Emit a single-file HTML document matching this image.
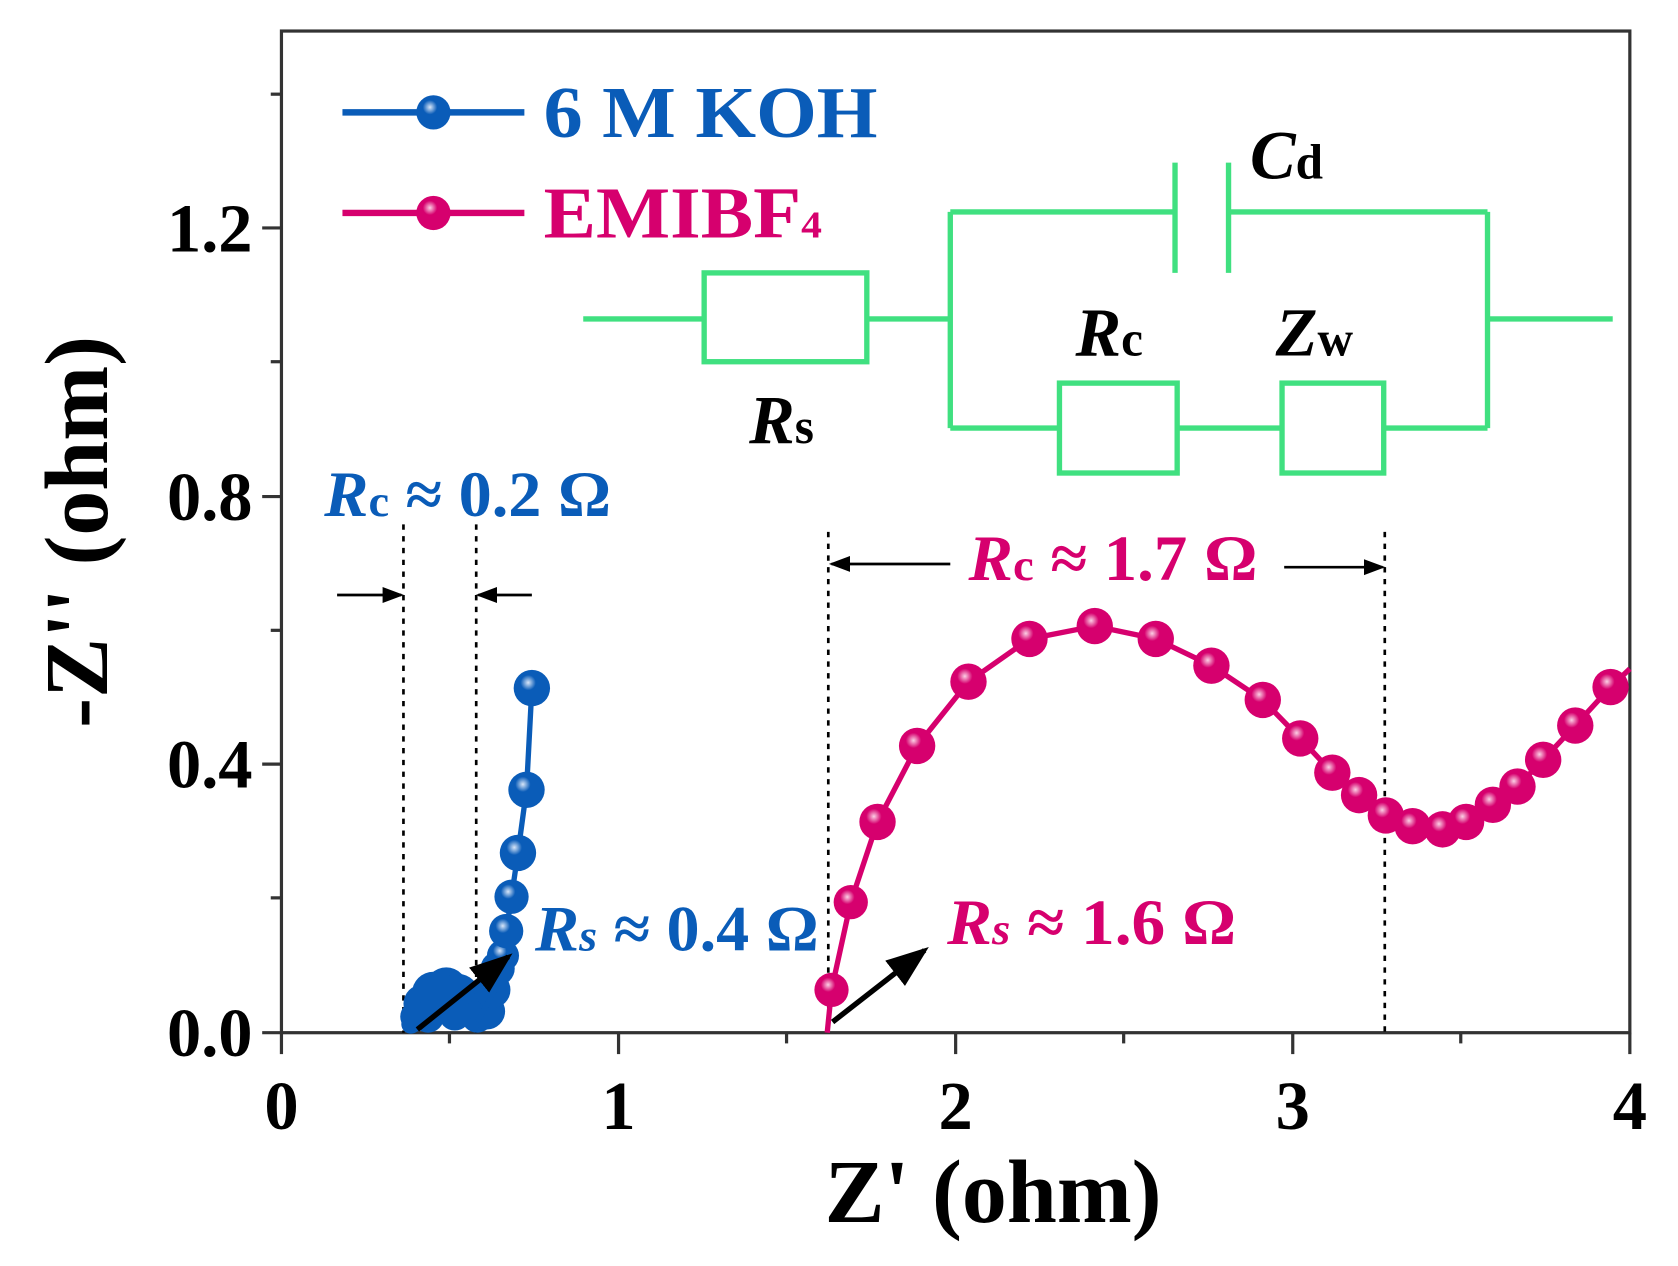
<!DOCTYPE html>
<html><head><meta charset="utf-8"><style>html,body{margin:0;padding:0;background:#fff}svg{display:block}</style></head>
<body>
<svg width="1678" height="1266" viewBox="0 0 1568 1183" xmlns="http://www.w3.org/2000/svg" font-family="Liberation Serif, serif" font-weight="bold">
<defs>
<radialGradient id="gb" cx="0.4" cy="0.35" r="0.6"><stop offset="0" stop-color="#d8e6f8"/><stop offset="0.35" stop-color="#0a5cb8"/><stop offset="1" stop-color="#0a5cb8"/></radialGradient>
<radialGradient id="gp" cx="0.4" cy="0.35" r="0.6"><stop offset="0" stop-color="#fbd0e4"/><stop offset="0.35" stop-color="#d6006e"/><stop offset="1" stop-color="#d6006e"/></radialGradient>
<marker id="ah" markerWidth="8" markerHeight="8" refX="7" refY="4" orient="auto" markerUnits="strokeWidth"><path d="M0,1 L8,4 L0,7 z" fill="#000"/></marker>
</defs>
<rect x="263" y="29" width="1260" height="936" fill="none" stroke="#333" stroke-width="3"/>
<g stroke="#333" stroke-width="3">
<line x1="245" y1="965" x2="263" y2="965"/><line x1="245" y1="714" x2="263" y2="714"/><line x1="245" y1="464" x2="263" y2="464"/><line x1="245" y1="213" x2="263" y2="213"/>
<line x1="253" y1="839" x2="263" y2="839"/><line x1="253" y1="589" x2="263" y2="589"/><line x1="253" y1="338" x2="263" y2="338"/><line x1="253" y1="88" x2="263" y2="88"/>
<line x1="263" y1="965" x2="263" y2="985"/><line x1="578" y1="965" x2="578" y2="985"/><line x1="893" y1="965" x2="893" y2="985"/><line x1="1208" y1="965" x2="1208" y2="985"/><line x1="1523" y1="965" x2="1523" y2="985"/>
<line x1="420" y1="965" x2="420" y2="975"/><line x1="735" y1="965" x2="735" y2="975"/><line x1="1050" y1="965" x2="1050" y2="975"/><line x1="1365" y1="965" x2="1365" y2="975"/>
</g>
<g font-size="64" text-anchor="end" fill="#000">
<text x="236" y="987">0.0</text><text x="236" y="736">0.4</text><text x="236" y="486">0.8</text><text x="236" y="235">1.2</text>
</g>
<g font-size="64" text-anchor="middle" fill="#000">
<text x="263" y="1055">0</text><text x="578" y="1055">1</text><text x="893" y="1055">2</text><text x="1208" y="1055">3</text><text x="1523" y="1055">4</text>
</g>
<text x="928" y="1142" font-size="84" text-anchor="middle">Z' (ohm)</text>
<text transform="translate(100,497) rotate(-90)" font-size="84" text-anchor="middle">-Z'' (ohm)</text>
<g stroke="#000" stroke-width="2.5" stroke-dasharray="5,6">
<line x1="377" y1="490" x2="377" y2="965"/><line x1="445" y1="490" x2="445" y2="965"/>
<line x1="774" y1="497" x2="774" y2="965"/><line x1="1294" y1="497" x2="1294" y2="965"/>
</g>
<g stroke="#000" stroke-width="2.5" fill="none" marker-end="url(#ah)">
<line x1="315" y1="556" x2="375" y2="556"/><line x1="497" y1="556" x2="447" y2="556"/>
<line x1="888" y1="527" x2="777" y2="527"/><line x1="1200" y1="530" x2="1292" y2="530"/>
</g>
<g fill="#0a5cb8">
<circle cx="388" cy="950" r="14"/><circle cx="395" cy="938" r="18"/><circle cx="405" cy="928" r="20"/><circle cx="417" cy="924" r="20"/><circle cx="428" cy="930" r="20"/><circle cx="438" cy="940" r="19"/><circle cx="446" cy="950" r="15"/><circle cx="384" cy="957" r="9"/>
<circle cx="455" cy="945" r="17"/><circle cx="460" cy="925" r="17"/><circle cx="465" cy="905" r="16"/><circle cx="400" cy="950" r="15"/><circle cx="425" cy="948" r="15"/>
</g>
<polyline points="446,955 465,920 470,893 473,870 478,838 484,797 492,738 497,643" fill="none" stroke="#0a5cb8" stroke-width="5"/>
<g fill="url(#gb)">
<circle cx="470" cy="893" r="15"/><circle cx="473" cy="870" r="16"/><circle cx="478" cy="838" r="16"/><circle cx="484" cy="797" r="17"/><circle cx="492" cy="738" r="17"/><circle cx="497" cy="643" r="17"/>
</g>
<polyline points="773,965 777,925 795,843 820,768 857,697 905,637 962,597 1023,585 1080,597 1132,622 1180,654 1215,690 1245,722 1270,743 1295,762 1320,772 1348,775 1370,768 1395,752 1418,735 1442,710 1472,678 1505,642 1523,625" fill="none" stroke="#d6006e" stroke-width="5"/>
<g fill="url(#gp)">
<circle cx="777" cy="925" r="16"/><circle cx="795" cy="843" r="16"/><circle cx="820" cy="768" r="17"/><circle cx="857" cy="697" r="17"/><circle cx="905" cy="637" r="17"/><circle cx="962" cy="597" r="17"/><circle cx="1023" cy="585" r="17"/><circle cx="1080" cy="597" r="17"/><circle cx="1132" cy="622" r="17"/><circle cx="1180" cy="654" r="17"/><circle cx="1215" cy="690" r="17"/><circle cx="1245" cy="722" r="17"/><circle cx="1270" cy="743" r="17"/><circle cx="1295" cy="762" r="17"/><circle cx="1320" cy="772" r="17"/><circle cx="1348" cy="775" r="17"/><circle cx="1370" cy="768" r="17"/><circle cx="1395" cy="752" r="17"/><circle cx="1418" cy="735" r="17"/><circle cx="1442" cy="710" r="17"/><circle cx="1472" cy="678" r="17"/><circle cx="1505" cy="642" r="17"/>
</g>
<g stroke="#000" stroke-width="5" fill="none" marker-end="url(#ah)">
<line x1="390" y1="962" x2="475" y2="894"/><line x1="778" y1="955" x2="864" y2="888"/>
</g>
<text x="303" y="482" font-size="60" fill="#0a5cb8" textLength="268" lengthAdjust="spacingAndGlyphs"><tspan font-style="italic">R</tspan><tspan font-size="42">c</tspan> ≈ 0.2 Ω</text>
<text x="500" y="888" font-size="60" fill="#0a5cb8" textLength="265" lengthAdjust="spacingAndGlyphs"><tspan font-style="italic">R</tspan><tspan font-size="42" font-style="italic">s</tspan> ≈ 0.4 Ω</text>
<text x="905" y="542" font-size="60" fill="#d6006e" textLength="270" lengthAdjust="spacingAndGlyphs"><tspan font-style="italic">R</tspan><tspan font-size="42">c</tspan> ≈ 1.7 Ω</text>
<text x="885" y="882" font-size="60" fill="#d6006e" textLength="270" lengthAdjust="spacingAndGlyphs"><tspan font-style="italic">R</tspan><tspan font-size="42" font-style="italic">s</tspan> ≈ 1.6 Ω</text>
<line x1="320" y1="105" x2="490" y2="105" stroke="#0a5cb8" stroke-width="6"/>
<circle cx="405" cy="105" r="16" fill="url(#gb)"/>
<text x="508" y="128" font-size="68" fill="#0a5cb8" textLength="312" lengthAdjust="spacingAndGlyphs">6 M KOH</text>
<line x1="320" y1="199" x2="490" y2="199" stroke="#d6006e" stroke-width="6"/>
<circle cx="405" cy="199" r="16" fill="url(#gp)"/>
<text x="508" y="222" font-size="68" fill="#d6006e" textLength="260" lengthAdjust="spacingAndGlyphs">EMIBF<tspan font-size="36">4</tspan></text>
<g stroke="#40e080" stroke-width="5" fill="none">
<line x1="545" y1="298" x2="658" y2="298"/>
<rect x="658" y="255" width="152" height="83"/>
<line x1="810" y1="298" x2="888" y2="298"/>
<line x1="888" y1="198" x2="888" y2="400"/>
<line x1="888" y1="198" x2="1098" y2="198"/>
<line x1="1098" y1="152" x2="1098" y2="255"/><line x1="1148" y1="152" x2="1148" y2="255"/>
<line x1="1148" y1="198" x2="1390" y2="198"/>
<line x1="1390" y1="198" x2="1390" y2="400"/>
<line x1="1390" y1="298" x2="1507" y2="298"/>
<line x1="888" y1="400" x2="990" y2="400"/>
<rect x="990" y="358" width="110" height="84"/>
<line x1="1100" y1="400" x2="1198" y2="400"/>
<rect x="1198" y="358" width="95" height="84"/>
<line x1="1293" y1="400" x2="1390" y2="400"/>
</g>
<text x="1168" y="167" font-size="64" fill="#000"><tspan font-style="italic">C</tspan><tspan font-size="46">d</tspan></text>
<text x="1005" y="332" font-size="64" fill="#000"><tspan font-style="italic">R</tspan><tspan font-size="46">c</tspan></text>
<text x="1192" y="332" font-size="64" fill="#000"><tspan font-style="italic">Z</tspan><tspan font-size="46">w</tspan></text>
<text x="700" y="414" font-size="64" fill="#000"><tspan font-style="italic">R</tspan><tspan font-size="46">s</tspan></text>
</svg>
</body></html>
